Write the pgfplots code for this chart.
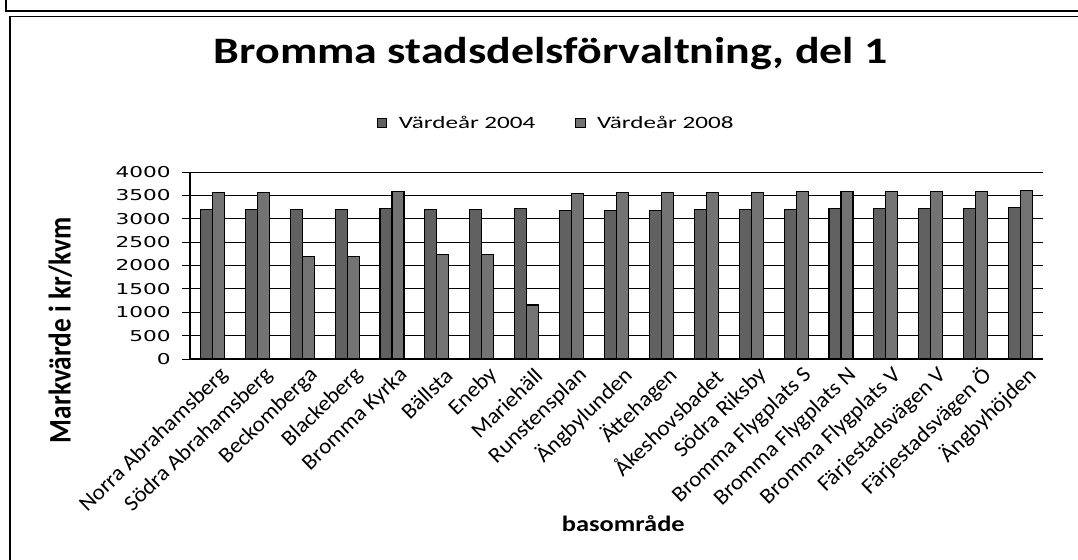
\documentclass[border=0pt]{standalone}
\usepackage{pgfplots}
\pgfplotsset{compat=1.18}
\usepackage{pgfplotstable}
\usepackage{fontspec}
\setmainfont{Carlito}
\newfontfamily\tickfont{DejaVu Sans}
\newcommand{\cat}[1]{\scalebox{1.05}[1]{\fontsize{16.5}{17}\selectfont #1}}

\pgfplotstableread{
idx v2004 v2008
0  3190 3570
1  3190 3570
2  3190 2200
3  3190 2200
4  3210 3590
5  3200 2235
6  3200 2235
7  3220 1155
8  3180 3550
9  3180 3555
10 3180 3555
11 3190 3555
12 3190 3565
13 3205 3575
14 3210 3575
15 3210 3575
16 3210 3575
17 3225 3580
18 3235 3595
}\data

\definecolor{bar04}{gray}{0.38}
\definecolor{bar08}{gray}{0.45}

\begin{document}
\begin{tikzpicture}[x=1pt,y=1pt]
\useasboundingbox (-142.5,-150.75) rectangle (666,269.25);
% page / chart frame
\draw[line width=0.8pt] (-138,269.25) -- (-138,261) -- (666,261);
\draw[line width=1.1pt] (-135,-151) -- (-135,257) -- (666,257);
\begin{axis}[
  at={(0pt,0pt)}, anchor=south west,
  scale only axis, width=639.75pt, height=140.25pt,
  ybar=0pt, bar width=9pt,
  xmin=-0.5, xmax=18.5, ymin=0, ymax=4000,
  axis x line*=bottom, axis y line*=left,
  axis line style={black, line width=0.9pt},
  ymajorgrids, major grid style={black, line width=0.6pt},
  ytick={0,500,...,4000},
  /pgf/number format/assume math mode=true,
  yticklabel={\scalebox{1.45}[1]{\tickfont\fontsize{11.2}{12}\selectfont\pgfmathprintnumber[fixed,precision=0,1000 sep={}]{\tick}}},
  y tick label style={xshift=-5pt},
  tick align=outside, major tick length=6pt,
  ytick style={black, line width=0.7pt},
  xtick={0,...,18}, xtick style={draw=none},
  xticklabels={\cat{Norra Abrahamsberg}, \cat{Södra Abrahamsberg}, \cat{Beckomberga}, \cat{Blackeberg}, \cat{Bromma Kyrka}, \cat{Bällsta}, \cat{Eneby}, \cat{Mariehäll}, \cat{Runstensplan}, \cat{Ängbylunden}, \cat{Ättehagen}, \cat{Åkeshovsbadet}, \cat{Södra Riksby}, \cat{Bromma Flygplats S}, \cat{Bromma Flygplats N}, \cat{Bromma Flygplats V}, \cat{Färjestadsvägen V}, \cat{Färjestadsvägen Ö}, \cat{Ängbyhöjden}},
  x tick label style={rotate=44, anchor=east, inner sep=1pt, yshift=-9pt, xshift=5pt},
  title={\scalebox{1.23}[1]{Bromma stadsdelsförvaltning, del 1}},
  title style={font=\bfseries\fontsize{28}{28}\selectfont, at={(0.423,1.535)}, anchor=base, inner sep=0pt},
  ylabel={\scalebox{1}[1.15]{\bfseries\fontsize{20.5}{21}\selectfont Markvärde i kr/kvm}},
  ylabel style={at={(-0.152,0.155)}, anchor=center},
  xlabel={\scalebox{1.2}[1]{\bfseries\fontsize{16.5}{17}\selectfont basområde}},
  xlabel style={at={(0.508,-0.92)}, anchor=base},
  legend columns=2,
  legend style={draw=none, fill=none, at={(0.430,1.262)}, anchor=center,
    font=\fontsize{13}{14}\selectfont,
    /tikz/every odd column/.append style={column sep=7pt},
    /tikz/every even column/.append style={column sep=28pt}},
  legend image code/.code={\draw[#1, line width=0.4pt] (0pt,-3.4pt) rectangle (6.8pt,3.4pt);},
]
\addplot[fill=bar04, draw=black, line width=0.8pt] table[x=idx, y=v2004] {\data};
\addplot[fill=bar08, draw=black, line width=0.8pt] table[x=idx, y=v2008] {\data};
\legend{\scalebox{1.45}[1]{Värdeår 2004}, \scalebox{1.45}[1]{Värdeår 2008}}
\end{axis}
\end{tikzpicture}
\end{document}
